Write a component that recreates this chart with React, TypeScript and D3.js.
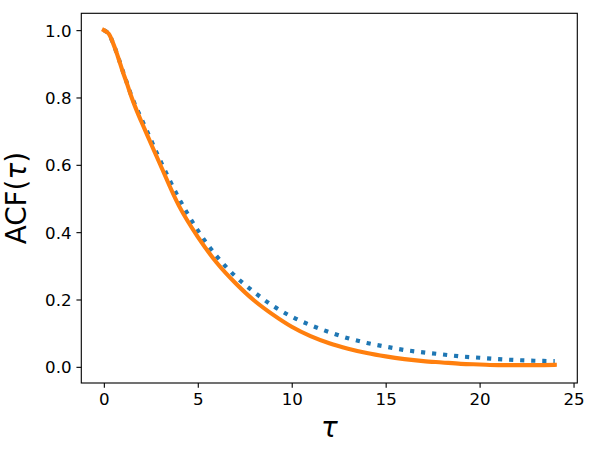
import { useEffect, useRef } from 'react'
import * as d3 from 'd3'

// lag values and the two autocorrelation curves
const tau = [0, 0.25, 0.5, 0.75, 1, 1.25, 1.5, 1.75, 2, 2.5, 3, 4, 5, 6, 7, 8, 9, 10, 11, 12, 13, 14, 15, 16, 17, 18, 19, 20, 21, 22, 23, 24]
const acfDotted = [1.0, 0.99, 0.96, 0.922, 0.88, 0.84, 0.8, 0.767, 0.737, 0.675, 0.613, 0.5, 0.405, 0.329, 0.269, 0.222, 0.181, 0.149, 0.124, 0.103, 0.085, 0.071, 0.06, 0.05, 0.043, 0.037, 0.031, 0.027, 0.023, 0.02, 0.018, 0.017]
const acfSolid = [1.0, 0.99, 0.96, 0.921, 0.878, 0.838, 0.797, 0.761, 0.728, 0.664, 0.601, 0.478, 0.386, 0.31, 0.249, 0.197, 0.155, 0.119, 0.091, 0.07, 0.054, 0.041, 0.031, 0.023, 0.017, 0.013, 0.009, 0.007, 0.005, 0.005, 0.005, 0.006]
const xTicks = [0, 5, 10, 15, 20, 25]
const yTicks = [0, 0.2, 0.4, 0.6, 0.8, 1.0]

const W = 593
const H = 454
const FONT = '"DejaVu Sans", sans-serif'

export default function App() {
    const svgRef = useRef<SVGSVGElement>(null)

    useEffect(() => {
        const svg = d3.select(svgRef.current)
        svg.selectAll('*').remove()

        const left = 81.3, right = 577.3, top = 13.3, bottom = 383
        const x = d3.scaleLinear().domain([-1.2, 25.2]).range([left, right])
        const y = d3.scaleLinear().domain([-0.048, 1.05]).range([bottom, top])

        svg.append('defs').append('clipPath').attr('id', 'plot-clip')
            .append('rect')
            .attr('x', left).attr('y', top)
            .attr('width', right - left).attr('height', bottom - top)

        const points = (vals: number[]) => tau.map((t, i) => [t, vals[i]] as [number, number])
        const line = d3.line<[number, number]>()
            .x(d => x(d[0]))
            .y(d => y(d[1]))
            .curve(d3.curveCatmullRom.alpha(0.5))

        const plot = svg.append('g').attr('clip-path', 'url(#plot-clip)')
        plot.append('path')
            .attr('d', line(points(acfDotted)))
            .attr('fill', 'none')
            .attr('stroke', '#1f77b4')
            .attr('stroke-width', 4.17)
            .attr('stroke-dasharray', '4.17 6.88')
            .attr('stroke-linecap', 'butt')
        plot.append('path')
            .attr('d', line(points(acfSolid)))
            .attr('fill', 'none')
            .attr('stroke', '#ff7f0e')
            .attr('stroke-width', 4.17)
            .attr('stroke-linecap', 'square')
            .attr('stroke-linejoin', 'round')

        const tickLen = 4.86
        const xAxis = svg.append('g')
            .attr('transform', `translate(0,${bottom})`)
            .call(d3.axisBottom(x).tickValues(xTicks).tickFormat(d3.format('d'))
                .tickSize(tickLen).tickSizeOuter(0).tickPadding(tickLen))
        const yAxis = svg.append('g')
            .attr('transform', `translate(${left},0)`)
            .call(d3.axisLeft(y).tickValues(yTicks).tickFormat(d3.format('.1f'))
                .tickSize(tickLen).tickSizeOuter(0).tickPadding(tickLen))

        for (const ax of [xAxis, yAxis]) {
            ax.select('.domain').remove()
            ax.selectAll('line').attr('stroke', '#000').attr('stroke-width', 1.11)
            ax.selectAll('text')
                .attr('fill', '#000')
                .style('font-family', FONT)
                .style('font-size', '16.67px')
        }
        xAxis.selectAll('text').attr('dy', null).attr('y', tickLen * 2 + 12.7)
        yAxis.selectAll('text').attr('dy', '0.36em')

        svg.append('rect')
            .attr('x', left).attr('y', top)
            .attr('width', right - left).attr('height', bottom - top)
            .attr('fill', 'none')
            .attr('stroke', '#000')
            .attr('stroke-width', 1.11)

        // axis labels
        svg.append('text')
            .attr('x', (left + right) / 2)
            .attr('y', 437)
            .attr('text-anchor', 'middle')
            .style('font-family', FONT)
            .style('font-size', '27.8px')
            .style('font-style', 'italic')
            .text('τ')

        const yLabel = svg.append('text')
            .attr('transform', `translate(26,${(top + bottom) / 2}) rotate(-90)`)
            .attr('text-anchor', 'middle')
            .style('font-family', FONT)
            .style('font-size', '27.8px')
        yLabel.append('tspan').text('ACF(')
        yLabel.append('tspan').style('font-style', 'italic').text('τ')
        yLabel.append('tspan').text(')')
    }, [])

    return (
        <svg
            ref={svgRef}
            width={W}
            height={H}
            style={{ position: 'absolute', left: 0, top: 0, background: '#fff' }}
        />
    )
}
